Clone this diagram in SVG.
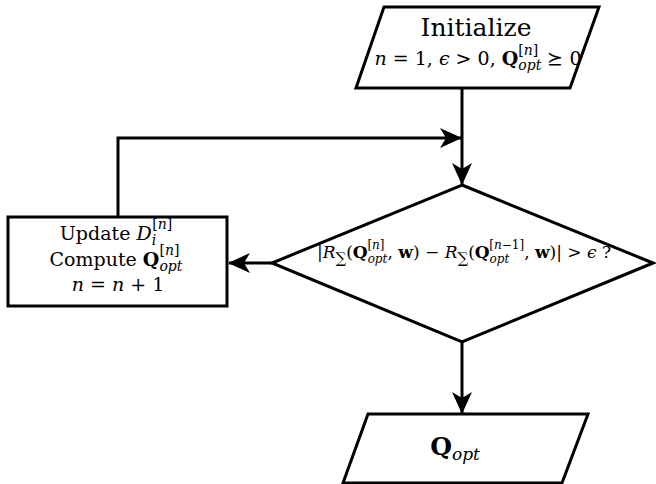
<svg xmlns="http://www.w3.org/2000/svg" width="656" height="484" viewBox="0 0 656 484">
<defs>
<marker id="ah" viewBox="0 0 22 20" refX="21" refY="10" markerWidth="22" markerHeight="20" markerUnits="userSpaceOnUse" orient="auto">
<path d="M0,0 L22,10 L0,20 L6,10 Z" fill="#000"/>
</marker>
<style>
.shape{fill:#fff;stroke:#000;stroke-width:3;stroke-linejoin:miter}
.conn{fill:none;stroke:#000;stroke-width:3}
.t{font-family:'DejaVu Serif','Liberation Serif',serif;fill:#000}
.it{font-style:italic}
.bf{font-weight:bold}
</style>
</defs>
<g id="connectors">
<path class="conn" d="M462,88 V184" marker-end="url(#ah)"/>
<path class="conn" d="M118,217 V138 H461" marker-end="url(#ah)"/>
<path class="conn" d="M272,263 H229" marker-end="url(#ah)"/>
<path class="conn" d="M462,342 V413" marker-end="url(#ah)"/>
</g>
<g id="init">
<polygon class="shape" points="384,7 599,7 570,88 356,88"/>
<text class="t" x="476" y="36" font-size="25" text-anchor="middle">Initialize</text>
<text class="t" x="478" y="65" font-size="19" text-anchor="middle"><tspan class="it">n</tspan> = 1, <tspan class="it">ϵ</tspan> &gt; 0, <tspan class="bf">Q</tspan><tspan class="it" font-size="14" dy="5">opt</tspan><tspan font-size="14" dx="-23" dy="-15">[<tspan class="it">n</tspan>]</tspan><tspan dx="3" dy="10"> ⪰ 0</tspan></text>
</g>
<g id="decision">
<polygon class="shape" points="462,185 653,263 462,342 272,263"/>
<text class="t" x="464" y="258" font-size="17" text-anchor="middle">|<tspan class="it">R</tspan><tspan font-size="15" dy="5">∑</tspan><tspan dy="-5">(</tspan><tspan class="bf">Q</tspan><tspan class="it" font-size="12" dy="5">opt</tspan><tspan font-size="12" dx="-20" dy="-14">[<tspan class="it">n</tspan>]</tspan><tspan dx="3" dy="9">, <tspan class="bf">w</tspan>) − </tspan><tspan class="it">R</tspan><tspan font-size="15" dy="5">∑</tspan><tspan dy="-5">(</tspan><tspan class="bf">Q</tspan><tspan class="it" font-size="12" dy="5">opt</tspan><tspan font-size="12" dx="-20" dy="-14">[<tspan class="it">n</tspan>−1]</tspan><tspan dy="9">, <tspan class="bf">w</tspan>)| &gt; <tspan class="it">ϵ</tspan> ?</tspan></text>
</g>
<g id="update">
<rect class="shape" x="8" y="217" width="219" height="89"/>
<text class="t" x="116" y="240" font-size="19" text-anchor="middle">Update <tspan class="it">D</tspan><tspan class="it" font-size="14" dy="5">i</tspan><tspan font-size="14" dx="-4" dy="-16">[<tspan class="it">n</tspan>]</tspan></text>
<text class="t" x="116" y="266" font-size="19" text-anchor="middle">Compute <tspan class="bf">Q</tspan><tspan class="it" font-size="14" dy="5">opt</tspan><tspan font-size="14" dx="-23" dy="-16">[<tspan class="it">n</tspan>]</tspan></text>
<text class="t" x="118" y="291" font-size="19" text-anchor="middle"><tspan class="it">n</tspan> = <tspan class="it">n</tspan> + 1</text>
</g>
<g id="output">
<polygon class="shape" points="368,414 588,414 562,483 343,483"/>
<text class="t" x="455" y="455" font-size="25" text-anchor="middle"><tspan class="bf">Q</tspan><tspan class="it" font-size="17" dy="5">opt</tspan></text>
</g>
</svg>
